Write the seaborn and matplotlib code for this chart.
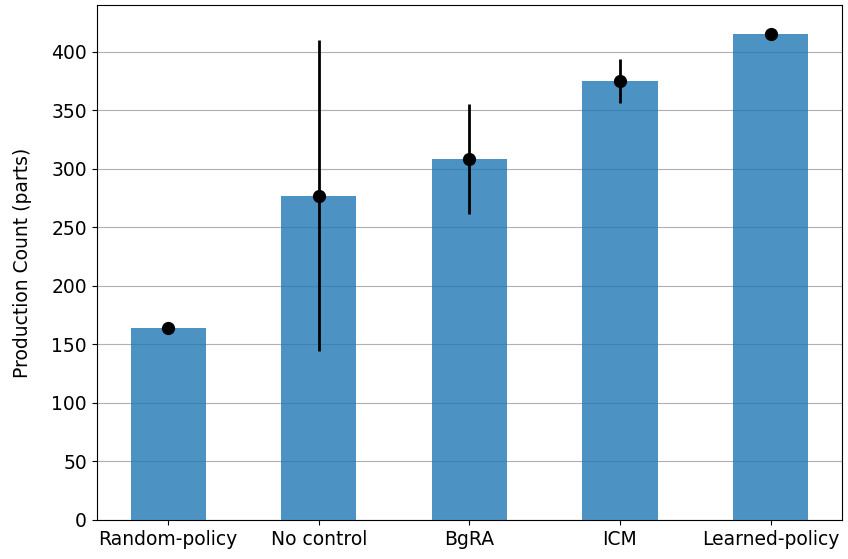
import numpy as np
import matplotlib
matplotlib.use("Agg")
import matplotlib.pyplot as plt
import seaborn as sns

# Values
methods = ["Random-policy", "No control", "BgRA", "ICM", "Learned-policy"]
mean_count = [164, 277, 308, 375, 415]
std_count = [1, 133, 47, 19, 1]

fig, ax = plt.subplots(figsize=(8.48, 5.59), dpi=100)
fig.subplots_adjust(left=0.114, right=0.993, top=0.991, bottom=0.070)

sns.barplot(x=methods, y=mean_count, color="tab:blue", alpha=0.8,
            saturation=1, width=0.5, errorbar=None, ax=ax, zorder=3)
ax.errorbar(np.arange(len(methods)), mean_count, yerr=std_count,
            fmt="o", color="black", ms=8.5, elinewidth=2, capsize=0, zorder=4)

ax.set_xlim(-0.475, 4.475)
ax.set_ylim(0, 440)
ax.set_ylabel("Production Count (parts)", fontsize=13.5, labelpad=14)
ax.tick_params(labelsize=13.5)
ax.yaxis.grid(True, color="#b0b0b0", zorder=0)
ax.set_axisbelow(True)

plt.savefig("out.png", dpi=100)
